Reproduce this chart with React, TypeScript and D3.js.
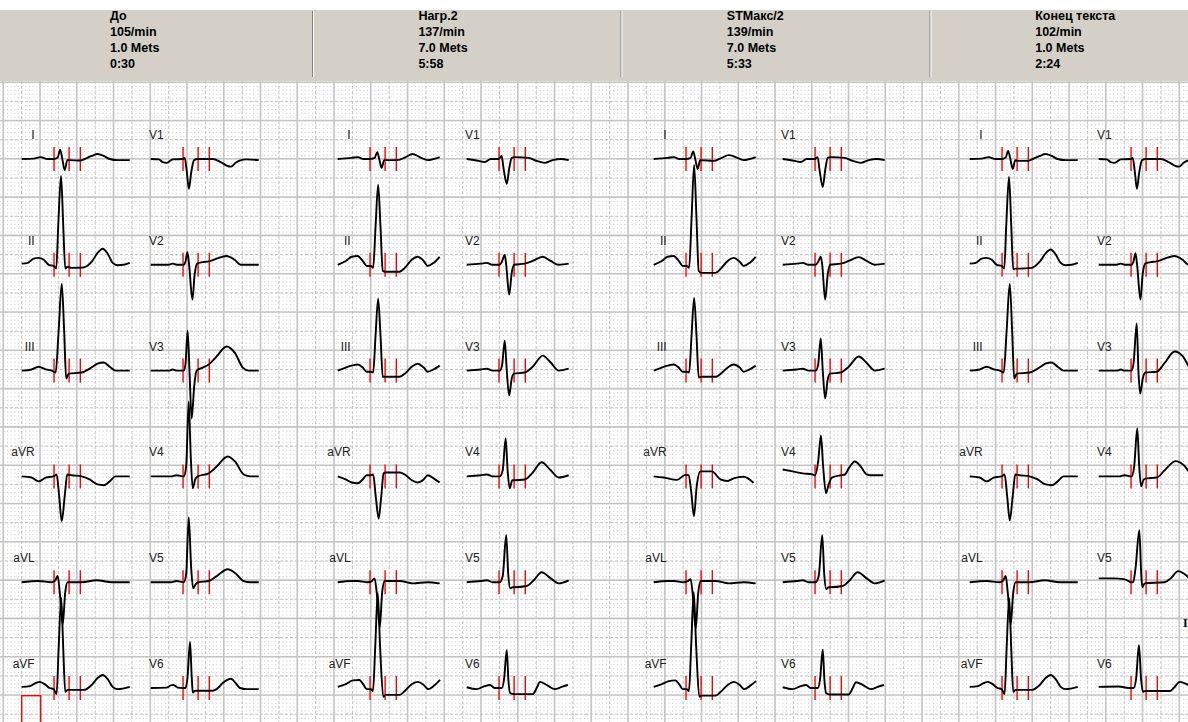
import React from "react";
import * as d3 from "d3";

type Pt = [number, number];

const leadNames = ["I", "II", "III", "aVR", "aVL", "aVF", "V1", "V2", "V3", "V4", "V5", "V6"];
const headerTitles = ["До", "Нагр.2", "STМакс/2", "Конец текста"];
const headerRates = ["105/min", "137/min", "139/min", "102/min"];
const headerMets = ["1.0 Mets", "7.0 Mets", "7.0 Mets", "1.0 Mets"];
const headerTimes = ["0:30", "5:58", "5:33", "2:24"];
// measurement markers (ms from start of the averaged beat)
const markerTimes = [176, 258, 319];

// averaged complexes: [time ms, amplitude mV]
const panel1Waves: Pt[][] = [
  [[0,0],[65,.01],[103,.05],[141,0],[174,0],[196,.04],[209,.24],[220,.03],[234,-.29],[248,-.03],[261,-.03],[316,-.04],[343,0],[381,.08],[413,.13],[446,.08],[479,0],[522,-.03],[588,-.03]],
  [[0,.03],[33,.05],[65,.16],[92,.18],[120,.13],[147,0],[174,-.03],[188,-.1],[199,1.04],[214,2.32],[226,1.04],[237,-.1],[250,-.05],[272,-.08],[337,-.07],[381,.08],[413,.31],[441,.42],[468,.29],[495,.05],[522,-.01],[555,0],[588,.05]],
  [[0,0],[54,.03],[92,.1],[131,.03],[163,0],[185,-.05],[201,1.04],[218,2.27],[231,1.04],[242,-.21],[256,-.08],[326,-.05],[370,.05],[413,.18],[446,.21],[479,.1],[511,0],[588,0]],
  [[0,0],[54,-.03],[92,-.13],[131,-.03],[174,0],[190,.05],[204,-.52],[218,-1.17],[234,-.52],[248,.05],[272,.03],[326,0],[370,-.08],[413,-.21],[446,-.23],[479,-.13],[511,0],[588,0]],
  [[0,0],[92,.03],[163,0],[180,.03],[196,.16],[207,-.26],[223,-1.1],[237,-.26],[250,0],[326,0],[408,.05],[490,0],[588,0]],
  [[0,.03],[44,.05],[76,.13],[98,.16],[125,.1],[152,0],[174,-.03],[190,-.16],[201,1.04],[215,2.35],[226,1.04],[237,-.1],[250,-.05],[337,-.05],[381,.08],[413,.26],[441,.34],[468,.23],[495,.03],[522,-.03],[588,.03]],
  [[0,0],[44,-.01],[65,-.08],[87,-.1],[120,-.01],[174,0],[185,.03],[196,-.31],[208,-.78],[220,-.37],[236,-.03],[256,0],[337,0],[381,-.08],[413,-.17],[437,-.2],[462,-.1],[484,-.04],[522,-.01],[588,-.03]],
  [[0,0],[98,0],[120,.03],[141,0],[180,0],[190,.1],[200,.33],[209,0],[227,-.91],[239,-.26],[254,.04],[283,.07],[316,.09],[359,.16],[412,.23],[457,.13],[490,0],[588,0]],
  [[0,0],[98,0],[120,.03],[141,0],[180,0],[190,.21],[201,1.04],[211,0],[223,-1.25],[237,-.39],[250,0],[283,.08],[316,.16],[359,.37],[413,.63],[457,.47],[501,.08],[533,0],[588,0]],
  [[0,0],[109,0],[141,.03],[180,0],[193,.26],[207,1.96],[218,.52],[229,-.31],[242,-.08],[256,0],[316,.08],[359,.26],[419,.52],[462,.37],[506,.05],[544,0],[588,0]],
  [[0,0],[109,0],[141,.03],[180,0],[193,.21],[207,1.7],[220,.39],[231,-.16],[245,-.05],[261,0],[316,.03],[359,.16],[419,.34],[462,.23],[506,.03],[544,0],[588,0]],
  [[0,0],[87,.01],[109,.07],[125,.08],[147,.01],[174,0],[190,0],[200,.26],[214,1.2],[223,.31],[229,-.12],[242,-.07],[337,-.07],[359,-.03],[392,.13],[437,.24],[462,.13],[486,0],[522,-.03],[588,-.03]],
];

const panel2Waves: Pt[][] = [
  [[0,0],[76,.03],[109,.05],[141,0],[174,0],[201,.03],[215,.18],[226,0],[239,-.23],[253,-.03],[326,-.03],[370,.05],[408,.13],[446,.05],[490,-.03],[522,0],[555,.05]],
  [[0,0],[44,.1],[76,.21],[109,.23],[136,.1],[158,-.03],[180,-.03],[193,-.08],[206,.99],[220,2.09],[233,.99],[245,-.16],[261,-.18],[337,-.18],[365,-.08],[403,.13],[435,.21],[468,.1],[490,-.03],[522,.05],[555,.21]],
  [[0,0],[44,.08],[76,.13],[109,.16],[136,.08],[158,-.03],[180,-.03],[193,-.05],[206,.91],[220,1.88],[233,.91],[245,-.16],[261,-.16],[337,-.16],[365,-.08],[403,.1],[435,.18],[468,.08],[490,-.03],[522,.03],[555,.13]],
  [[0,0],[44,-.08],[76,-.16],[109,-.18],[136,-.08],[158,.03],[180,.03],[193,.05],[207,-.52],[223,-1.1],[237,-.52],[250,.08],[261,.1],[337,.1],[365,.05],[403,-.1],[435,-.16],[468,-.08],[490,.03],[522,-.05],[555,-.16]],
  [[0,0],[76,.03],[109,.03],[163,0],[185,.03],[201,.1],[212,-.26],[229,-1.18],[242,-.26],[256,.03],[337,.03],[408,-.03],[490,0],[555,-.03]],
  [[0,.03],[44,.1],[82,.2],[118,.21],[141,.08],[158,-.03],[180,-.03],[192,-.08],[204,1.04],[218,2.48],[231,1.04],[248,-.23],[261,-.18],[337,-.18],[365,-.08],[403,.1],[437,.16],[468,.08],[493,-.03],[522,.05],[557,.21]],
  [[0,0],[65,-.05],[98,-.08],[131,0],[174,0],[190,.08],[201,-.26],[218,-.65],[231,-.26],[245,.03],[261,.05],[337,.03],[381,-.05],[424,-.1],[468,-.03],[511,0],[555,-.03]],
  [[0,0],[76,.03],[109,.05],[141,0],[180,0],[193,.1],[207,.26],[215,0],[231,-.78],[245,-.21],[258,0],[316,.03],[359,.1],[414,.21],[457,.1],[501,0],[555,.03]],
  [[0,0],[76,.03],[109,.05],[141,0],[180,0],[193,.16],[207,.78],[218,0],[231,-.65],[245,-.21],[258,-.08],[316,-.05],[359,.1],[414,.39],[457,.21],[501,0],[555,.05]],
  [[0,0],[76,.03],[109,.05],[141,0],[180,0],[196,.16],[212,.99],[223,.13],[234,-.31],[248,-.1],[261,-.1],[316,-.08],[359,.1],[408,.37],[457,.16],[501,-.03],[555,.03]],
  [[0,0],[76,.03],[109,.05],[141,0],[180,0],[196,.16],[215,1.23],[226,.21],[237,-.16],[250,-.13],[261,-.13],[326,-.1],[365,.05],[408,.26],[457,.1],[501,-.03],[555,.05]],
  [[0,.02],[54,-.03],[98,.05],[127,.08],[152,0],[174,0],[192,0],[204,.26],[218,.99],[227,.21],[236,-.13],[256,-.16],[359,-.16],[381,0],[399,.16],[435,.08],[481,-.03],[517,.03],[551,.08]],
];

const panel3Waves: Pt[][] = [
  [[0,0],[76,.03],[109,.05],[141,0],[174,0],[201,.03],[215,.2],[226,0],[239,-.26],[253,-.03],[326,-.05],[370,.03],[408,.1],[446,.05],[490,-.03],[522,0],[555,.05]],
  [[0,0],[44,.1],[76,.21],[109,.23],[136,.1],[158,-.03],[180,-.03],[193,-.08],[206,1.2],[220,2.61],[233,1.2],[245,-.16],[261,-.21],[337,-.21],[365,-.1],[403,.1],[435,.18],[468,.08],[490,-.03],[522,.05],[555,.21]],
  [[0,0],[44,.08],[76,.13],[109,.16],[136,.08],[158,-.03],[180,-.03],[193,-.05],[206,.91],[220,1.9],[233,.91],[245,-.18],[261,-.16],[337,-.16],[365,-.08],[403,.08],[435,.16],[468,.08],[490,-.03],[522,.03],[555,.13]],
  [[0,0],[54,-.03],[127,-.09],[172,.04],[190,.03],[204,-.39],[219,-1.04],[234,-.26],[254,.13],[317,.13],[363,-.08],[399,-.12],[435,-.05],[490,-.01],[543,-.17]],
  [[0,0],[76,.03],[109,.03],[163,0],[185,.03],[201,.08],[212,-.3],[229,-1.2],[242,-.3],[256,.03],[337,.03],[408,-.03],[490,0],[555,-.03]],
  [[0,.03],[44,.1],[82,.18],[118,.2],[141,.08],[158,-.03],[180,-.03],[192,-.08],[204,1.1],[218,2.5],[231,1.1],[248,-.23],[261,-.2],[337,-.2],[365,-.1],[403,.08],[437,.16],[468,.08],[493,-.03],[522,.05],[557,.18]],
  [[0,0],[65,-.05],[98,-.08],[131,0],[174,0],[190,.05],[201,-.3],[218,-.73],[231,-.3],[245,.03],[261,.05],[337,.03],[381,-.05],[424,-.1],[468,-.03],[511,0],[555,-.03]],
  [[0,0],[76,.03],[109,.05],[141,0],[180,0],[193,.08],[207,.21],[215,0],[231,-.91],[245,-.26],[258,0],[316,.03],[359,.1],[414,.2],[457,.1],[501,0],[555,.03]],
  [[0,0],[76,.03],[109,.05],[141,0],[180,0],[193,.16],[207,.84],[218,0],[231,-.73],[245,-.23],[258,-.08],[316,-.05],[359,.1],[414,.37],[457,.2],[501,0],[555,.05]],
  [[0,.18],[54,.13],[109,.08],[163,.05],[177,.03],[193,.39],[208,1.07],[220,.26],[236,-.44],[250,-.21],[268,-.03],[316,.03],[339,.05],[359,.21],[393,.39],[424,.26],[457,.05],[475,.03],[547,.03]],
  [[0,0],[76,.03],[109,.05],[141,0],[180,0],[196,.16],[215,1.23],[226,.21],[237,-.18],[250,-.13],[261,-.13],[326,-.1],[365,.05],[408,.26],[457,.1],[501,-.03],[555,.05]],
  [[0,.02],[54,-.03],[98,.05],[127,.08],[152,0],[174,0],[192,0],[204,.26],[218,1.0],[227,.21],[236,-.13],[256,-.17],[359,-.17],[381,0],[399,.15],[435,.08],[481,-.03],[517,.03],[551,.08]],
];

const panel4Waves: Pt[][] = [
  [[0,0],[65,.01],[103,.05],[141,0],[174,0],[196,.04],[209,.21],[220,.03],[234,-.26],[248,-.03],[261,-.05],[316,-.05],[343,0],[381,.08],[413,.13],[446,.08],[479,0],[522,-.03],[588,-.03]],
  [[0,.03],[33,.05],[65,.16],[92,.18],[120,.13],[147,0],[174,-.03],[188,-.1],[199,1.04],[214,2.3],[226,1.04],[237,-.12],[250,-.1],[272,-.1],[337,-.08],[381,.08],[413,.3],[441,.4],[468,.27],[495,.05],[522,-.01],[555,0],[588,.05]],
  [[0,0],[54,.03],[92,.1],[131,.03],[163,0],[185,-.05],[201,1.04],[218,2.27],[231,1.04],[242,-.21],[256,-.08],[326,-.05],[370,.05],[413,.18],[446,.21],[479,.1],[511,0],[588,0]],
  [[0,0],[54,-.03],[92,-.13],[131,-.03],[174,0],[190,.05],[204,-.52],[218,-1.15],[234,-.52],[248,.05],[272,.03],[326,0],[370,-.08],[413,-.21],[446,-.23],[479,-.13],[511,0],[588,0]],
  [[0,0],[92,.03],[163,0],[180,.03],[196,.16],[207,-.26],[223,-1.1],[237,-.26],[250,0],[326,0],[408,.05],[490,0],[588,0]],
  [[0,.03],[44,.05],[76,.13],[98,.16],[125,.1],[152,0],[174,-.03],[190,-.16],[201,1.04],[215,2.35],[226,1.04],[237,-.1],[250,-.05],[337,-.05],[381,.08],[413,.26],[441,.34],[468,.23],[495,.03],[522,-.03],[588,.03]],
  [[0,0],[44,-.01],[65,-.08],[87,-.1],[120,-.01],[174,0],[185,.03],[196,-.31],[208,-.78],[220,-.37],[236,-.03],[256,0],[337,0],[381,-.08],[413,-.17],[437,-.2],[462,-.1],[484,-.04],[522,-.01],[588,-.03]],
  [[0,0],[98,0],[120,.03],[141,0],[180,0],[190,.1],[200,.3],[209,0],[227,-.91],[239,-.26],[254,.04],[283,.07],[316,.09],[359,.16],[412,.23],[457,.13],[490,0],[588,0]],
  [[0,0],[98,0],[120,.03],[141,0],[180,0],[190,.21],[207,1.23],[216,0],[226,-.6],[240,-.2],[254,-.05],[316,-.03],[359,.2],[413,.5],[457,.38],[501,.05],[533,0],[588,0]],
  [[0,0],[109,0],[141,.03],[180,0],[193,.26],[210,1.25],[220,.3],[231,-.26],[245,-.08],[261,-.05],[316,-.03],[359,.16],[419,.4],[462,.3],[506,.05],[544,0],[588,0]],
  [[0,.1],[82,.1],[136,.08],[163,.03],[174,0],[188,0],[201,.39],[221,1.36],[231,.26],[237,-.13],[250,-.03],[359,0],[392,.1],[432,.29],[468,.21],[517,.03],[588,0]],
  [[0,.03],[109,.04],[163,0],[174,0],[190,0],[204,.26],[219,1.12],[231,.21],[241,-.1],[252,-.08],[388,-.08],[408,0],[442,.16],[479,.1],[517,0],[588,0]],
];

const allPanels = [panel1Waves, panel2Waves, panel3Waves, panel4Waves];

const W = 1188;
const H = 722;
const majorX = 36.75;
const majorY = 38.3;
const gridX0 = 3.25;
const gridY0 = 82.2;
const headerTop = 10;
const headerBottom = 81;
const panelX0 = 21.7;
const panelStep = 316;
const colStep = 129;
const rowY0 = 159;
const rowStep = 105.8;
const headerSep = [312.5, 621, 930];
const headerTextX0 = 110;
const headerTextStep = 308.4;

const App: React.FC = () => {
  const xs = d3.scaleLinear().domain([0, 200]).range([0, majorX]);
  const ys = d3.scaleLinear().domain([0, 1]).range([0, -majorY]);

  const vMajor = d3.range(gridX0, W, majorX);
  const vHalf = d3.range(gridX0 + majorX / 2, W, majorX);
  const hMajor = d3.range(gridY0, H, majorY);
  const hHalf = d3.range(gridY0 + majorY / 2, H, majorY);

  const traces: React.ReactNode[] = [];
  allPanels.forEach((waves, p) => {
    waves.forEach((pts, li) => {
      const col = li < 6 ? 0 : 1;
      const row = li % 6;
      const x0 = panelX0 + p * panelStep + col * colStep;
      const base = rowY0 + row * rowStep;
      const line = d3
        .line<Pt>()
        .x((d) => x0 + xs(d[0]))
        .y((d) => base + ys(d[1]))
        .curve(d3.curveMonotoneX);
      traces.push(
        <g key={`t${p}-${li}`}>
          <text
            x={x0 + 13}
            y={base - 20}
            textAnchor="end"
            fontFamily="Liberation Sans, Arial, sans-serif"
            fontSize={12}
            fill="#222"
          >
            {leadNames[li]}
          </text>
          {markerTimes.map((t, mi) => (
            <line
              key={mi}
              x1={x0 + xs(t)}
              x2={x0 + xs(t)}
              y1={base - 12}
              y2={base + 12}
              stroke="#ff0000"
              strokeWidth={1.4}
            />
          ))}
          <path d={line(pts) || ""} fill="none" stroke="#000" strokeWidth={1.9} strokeLinejoin="round" />
        </g>
      );
    });
  });

  return (
    <svg
      width={W}
      height={H}
      style={{ position: "absolute", left: 0, top: 0, background: "#fff" }}
    >
      <defs>
        <pattern
          id="dots"
          x={gridX0}
          y={gridY0}
          width={majorX / 10}
          height={majorY / 10}
          patternUnits="userSpaceOnUse"
        >
          <rect width={1} height={1} fill="#c6c6c6" />
        </pattern>
      </defs>
      <rect x={0} y={0} width={W} height={H} fill="#fff" />
      <rect x={0} y={headerBottom} width={W} height={H - headerBottom} fill="url(#dots)" />
      {vHalf.map((x, i) => (
        <line key={`vh${i}`} x1={x} x2={x} y1={headerBottom} y2={H} stroke="#c4c4c4" strokeWidth={1} strokeDasharray="3,2" />
      ))}
      {hHalf.map((y, i) => (
        <line key={`hh${i}`} x1={0} x2={W} y1={y} y2={y} stroke="#c4c4c4" strokeWidth={1} strokeDasharray="3,2" />
      ))}
      {vMajor.map((x, i) => (
        <line key={`vm${i}`} x1={x} x2={x} y1={headerBottom} y2={H} stroke="#c4c4c4" strokeWidth={1.6} />
      ))}
      {hMajor.map((y, i) => (
        <line key={`hm${i}`} x1={0} x2={W} y1={y} y2={y} stroke="#c4c4c4" strokeWidth={1.6} />
      ))}
      <rect x={0} y={headerTop} width={W} height={headerBottom - headerTop} fill="#d4d0c8" />
      {headerSep.map((x, i) => (
        <g key={`sep${i}`}>
          <line x1={x} x2={x} y1={headerTop + 1} y2={headerBottom - 4} stroke="#808080" strokeWidth={1} />
          <line x1={x + 1} x2={x + 1} y1={headerTop + 1} y2={headerBottom - 4} stroke="#ffffff" strokeWidth={1} />
        </g>
      ))}
      {headerTitles.map((t, i) => {
        const x = headerTextX0 + i * headerTextStep;
        const lines = [t, headerRates[i], headerMets[i], headerTimes[i]];
        return (
          <g key={`ht${i}`} fontFamily="Liberation Sans, Arial, sans-serif" fontSize={12.5} fontWeight="bold" fill="#000">
            {lines.map((s, k) => (
              <text key={k} x={x} y={20 + k * 16}>
                {s}
              </text>
            ))}
          </g>
        );
      })}
      {traces}
      <rect x={21.7} y={695.7} width={19} height={40} fill="none" stroke="#ff0000" strokeWidth={1.4} />
      <text x={1183} y={627} fontFamily="Liberation Serif, serif" fontWeight="bold" fontSize={12} fill="#000">
        I
      </text>
    </svg>
  );
};

export default App;
